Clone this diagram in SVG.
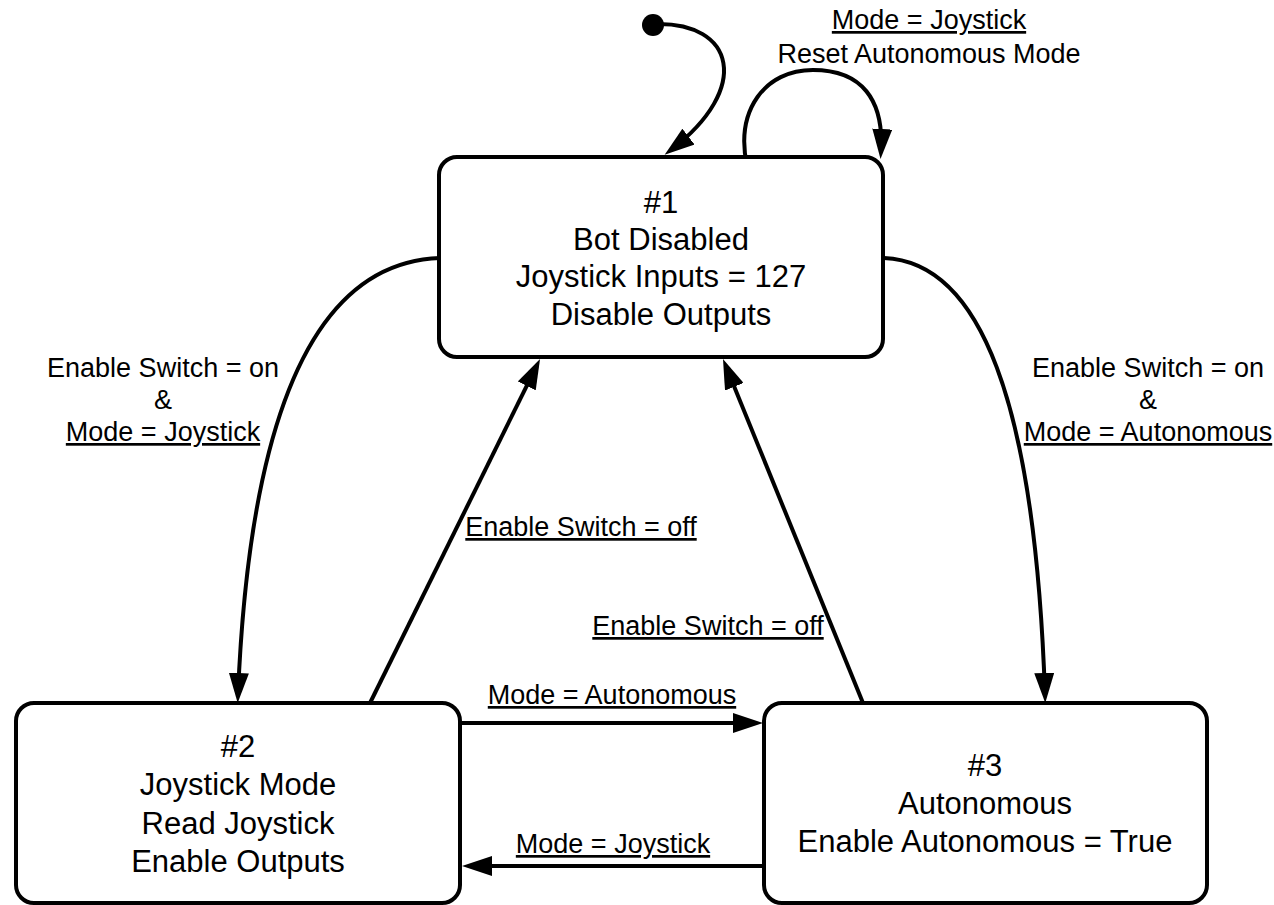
<svg xmlns="http://www.w3.org/2000/svg" width="1274" height="905" viewBox="0 0 1274 905">
  <defs>
    <style>
      .state { fill: #ffffff; stroke: #000000; stroke-width: 4; }
      .state-text { font-family: "Liberation Sans", Arial, Helvetica, sans-serif; font-size: 31px; fill: #000000; text-anchor: middle; }
      .edge { fill: none; stroke: #000000; stroke-width: 4; }
      .label { font-family: "Liberation Sans", Arial, Helvetica, sans-serif; font-size: 27px; fill: #000000; text-anchor: middle; }
      .guard { text-decoration: underline; }
    </style>
    <marker id="arrow" markerUnits="userSpaceOnUse" markerWidth="30" markerHeight="20" refX="22" refY="10" orient="auto">
      <path d="M0,0 L30,10 L0,20 z" fill="#000000"/>
    </marker>
  </defs>

  <rect width="1274" height="905" fill="#ffffff"/>

  <!-- transitions -->
  <g id="connectors">
    <!-- initial pseudo-state -->
    <circle cx="653" cy="25" r="11" fill="#000000"/>
    <path class="edge" d="M 655 24 C 735 22, 752 88, 671 150" marker-end="url(#arrow)"/>

    <!-- #1 self loop -->
    <path class="edge" d="M 747 166 C 735 110, 765 70, 813 70 C 862 70, 884 100, 881 151" marker-end="url(#arrow)"/>

    <!-- #1 -> #2 -->
    <path class="edge" d="M 440 258 C 320 262, 250 400, 238 695" marker-end="url(#arrow)"/>

    <!-- #1 -> #3 -->
    <path class="edge" d="M 884 258 C 980 262, 1035 400, 1045 695" marker-end="url(#arrow)"/>

    <!-- #2 -> #1 -->
    <path class="edge" d="M 370 703 L 536.5 366.2" marker-end="url(#arrow)"/>

    <!-- #3 -> #1 -->
    <path class="edge" d="M 863 703 L 726 366.4" marker-end="url(#arrow)"/>

    <!-- #2 -> #3 -->
    <path class="edge" d="M 460 723 L 755 723" marker-end="url(#arrow)"/>

    <!-- #3 -> #2 -->
    <path class="edge" d="M 764 866 L 470 866" marker-end="url(#arrow)"/>

    <!-- transition labels -->
    <text class="label guard" x="929" y="29">Mode = Joystick</text>
    <text class="label" x="929" y="63">Reset Autonomous Mode</text>

    <text class="label" x="163" y="377">Enable Switch = on</text>
    <text class="label" x="163" y="409">&amp;</text>
    <text class="label guard" x="163" y="441">Mode = Joystick</text>

    <text class="label" x="1148" y="377">Enable Switch = on</text>
    <text class="label" x="1148" y="409">&amp;</text>
    <text class="label guard" x="1148" y="441">Mode = Autonomous</text>

    <text class="label guard" x="581" y="536">Enable Switch = off</text>
    <text class="label guard" x="708" y="635">Enable Switch = off</text>

    <text class="label guard" x="612" y="704">Mode = Autonomous</text>
    <text class="label guard" x="613" y="853">Mode = Joystick</text>
  </g>

  <!-- states -->
  <g id="state-1">
    <rect class="state" x="439" y="157" width="444" height="200" rx="18" ry="18"/>
    <text class="state-text" x="661" y="213">#1</text>
    <text class="state-text" x="661" y="250">Bot Disabled</text>
    <text class="state-text" x="661" y="287">Joystick Inputs = 127</text>
    <text class="state-text" x="661" y="325">Disable Outputs</text>
  </g>

  <g id="state-2">
    <rect class="state" x="16" y="703" width="444" height="200" rx="18" ry="18"/>
    <text class="state-text" x="238" y="757">#2</text>
    <text class="state-text" x="238" y="795">Joystick Mode</text>
    <text class="state-text" x="238" y="834">Read Joystick</text>
    <text class="state-text" x="238" y="872">Enable Outputs</text>
  </g>

  <g id="state-3">
    <rect class="state" x="764" y="703" width="443" height="200" rx="18" ry="18"/>
    <text class="state-text" x="985" y="776">#3</text>
    <text class="state-text" x="985" y="814">Autonomous</text>
    <text class="state-text" x="985" y="852">Enable Autonomous = True</text>
  </g>
</svg>
